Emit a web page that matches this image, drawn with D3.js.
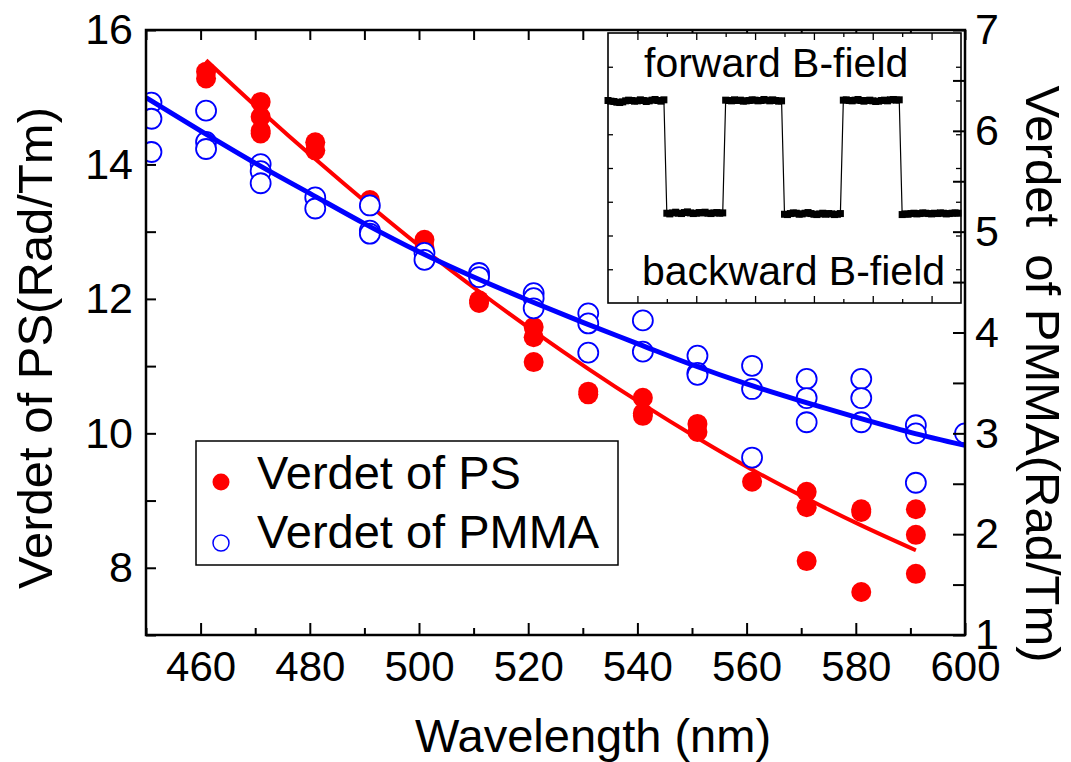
<!DOCTYPE html>
<html><head><meta charset="utf-8">
<script src="https://cdn.jsdelivr.net/npm/d3@7"></script>
<style>
body{margin:0;background:#fff}
text{font-family:"Liberation Sans", Arial, Helvetica, sans-serif;fill:#000}
</style>
</head><body>
<svg id="c" width="1071" height="762"></svg>
<script>
// ---------- data ----------
const psWavelength = [461,461, 471,471,471,471, 481,481, 491,491, 501,501, 511,511, 521,521,521, 531,531, 541,541,541, 551,551, 561,561, 571,571,571, 581,581,581, 591,591,591];
const psVerdet     = [15.38,15.28, 14.93,14.71,14.50,14.46, 14.33,14.21, 13.47,13.42, 12.88,12.76, 11.98,11.94, 11.58,11.43,11.06, 10.62,10.58, 10.53,10.30,10.26, 10.14,10.02, 9.62,9.28, 9.13,8.90,8.10, 8.87,8.83,7.64, 8.87,8.49,7.91];

const pmmaWavelength = [451,451,451, 461,461,461, 471,471,471, 481,481, 491,491,491, 501,501, 511,511, 521,521,521, 531,531,531, 541,541, 551,551,551, 561,561,561, 571,571,571, 581,581,581, 591,591,591, 600];
const pmmaVerdet     = [6.28,6.12,5.79, 6.20,5.89,5.82, 5.67,5.60,5.48, 5.34,5.23, 5.26,5.01,4.98, 4.79,4.72, 4.59,4.55, 4.39,4.34,4.24, 4.19,4.09,3.80, 4.12,3.81, 3.77,3.60,3.58, 3.67,3.44,2.76, 3.54,3.35,3.11, 3.54,3.35,3.11, 3.08,3.00,2.51, 3.00];

const psFitWavelength = [461,471,481,491,501,511,521,531,541,551,561,571,581,591];
const psFitVerdet     = [15.55,14.80,14.08,13.39,12.73,12.11,11.52,10.96,10.43,9.93,9.46,9.03,8.63,8.26];

const pmmaFitWavelength = [450,460,470,480,490,500,510,520,530,540,550,560,570,580,590,600];
const pmmaFitVerdet     = [6.33,6.00,5.68,5.38,5.08,4.80,4.55,4.32,4.10,3.89,3.68,3.49,3.32,3.16,3.01,2.88];

const xMajorTicks = [460,480,500,520,540,560,580,600];
const xMinorTicks = [450,470,490,510,530,550,570,590];
const yLeftMajorTicks = [8,10,12,14,16];
const yLeftMinorTicks = [7,9,11,13,15];
const yRightMajorTicks = [1,2,3,4,5,6,7];
const yRightMinorTicks = [1.5,2.5,3.5,4.5,5.5,6.5];

// inset: Faraday signal for forward / backward B-field (samples)
const insetSignal = [
 6.00,5.98,5.97,5.95,5.94,5.96,5.99,6.01,6.00,5.98,5.99,6.02,6.00,5.97,5.99,6.01,6.03,6.00,5.98,6.02,
 2.66,2.64,2.67,2.69,2.66,2.65,2.68,2.70,2.67,2.65,2.66,2.68,2.67,2.69,2.66,2.65,2.67,2.68,2.66,2.67,
 6.01,6.00,5.99,6.02,6.00,6.01,5.98,5.99,6.00,6.02,6.01,5.99,6.00,6.03,6.01,5.99,6.02,6.00,5.98,5.99,
 2.63,2.62,2.65,2.67,2.66,2.63,2.64,2.66,2.68,2.65,2.63,2.62,2.64,2.66,2.63,2.65,2.64,2.62,2.63,2.65,
 6.01,6.02,6.00,5.99,6.01,6.03,6.00,5.98,6.00,6.01,5.99,5.97,5.98,6.00,6.01,5.99,6.02,6.03,6.01,6.02,
 2.62,2.64,2.63,2.65,2.66,2.64,2.65,2.67,2.66,2.65,2.64,2.66,2.65,2.67,2.66,2.64,2.65,2.66,2.67,2.66
];
const insetXMajor = [0,2,4,6,8,10];
const insetXMinor = [1,3,5,7,9];
const insetYTicks = [1,2,3,4,5,6,7];

// ---------- layout ----------
const L = 146, R = 965, T = 30, B = 635;
const svg = d3.select("#c");
const x = d3.scaleLinear().domain([450,600]).range([L,R]);
const yL = d3.scaleLinear().domain([7,16]).range([B,T]);
const yR = d3.scaleLinear().domain([1,7]).range([B,T]);

svg.append("defs").append("clipPath").attr("id","plotclip")
  .append("rect").attr("x",L).attr("y",T).attr("width",R-L).attr("height",B-T);

function styleAxis(g, fs){
  g.select(".domain").remove();
  g.selectAll(".tick line").attr("stroke","#000").attr("stroke-width",2);
  g.selectAll(".tick text").attr("font-size",fs).attr("font-family",'"Liberation Sans", Arial, sans-serif').attr("fill","#000");
}

// axes (bottom, top, left)
svg.append("g").attr("transform",`translate(0,${B})`)
  .call(d3.axisBottom(x).tickValues(xMajorTicks).tickSize(-12).tickSizeOuter(0).tickPadding(16).tickFormat(d3.format("d")))
  .call(g=>styleAxis(g,42));
svg.append("g").attr("transform",`translate(0,${B})`)
  .call(d3.axisBottom(x).tickValues(xMinorTicks).tickSize(-7).tickSizeOuter(0).tickFormat(""))
  .call(g=>styleAxis(g,42));
svg.append("g").attr("transform",`translate(0,${T})`)
  .call(d3.axisTop(x).tickValues(xMajorTicks.concat(xMinorTicks)).tickSize(-10).tickSizeOuter(0).tickFormat(""))
  .call(g=>styleAxis(g,42));
svg.append("g").attr("transform",`translate(${L},0)`)
  .call(d3.axisLeft(yL).tickValues(yLeftMajorTicks).tickSize(-10).tickSizeOuter(0).tickPadding(13).tickFormat(d3.format("d")))
  .call(g=>styleAxis(g,43));
svg.append("g").attr("transform",`translate(${L},0)`)
  .call(d3.axisLeft(yL).tickValues(yLeftMinorTicks).tickSize(-10).tickSizeOuter(0).tickFormat(""))
  .call(g=>styleAxis(g,43));

// data
const plot = svg.append("g").attr("clip-path","url(#plotclip)");
const psPts = psWavelength.map((w,i)=>({w, v: psVerdet[i]}));
const pmmaPts = pmmaWavelength.map((w,i)=>({w, v: pmmaVerdet[i]}));

plot.selectAll("circle.ps").data(psPts).join("circle").attr("class","ps")
  .attr("cx",d=>x(d.w)).attr("cy",d=>yL(d.v)).attr("r",10).attr("fill","#ff0000");

const lineL = d3.line().x(d=>x(d[0])).y(d=>yL(d[1])).curve(d3.curveMonotoneX);
const lineR = d3.line().x(d=>x(d[0])).y(d=>yR(d[1])).curve(d3.curveMonotoneX);

plot.append("path").datum(psFitWavelength.map((w,i)=>[w,psFitVerdet[i]]))
  .attr("d",lineL).attr("fill","none").attr("stroke","#ff0000").attr("stroke-width",4);

plot.selectAll("circle.pm").data(pmmaPts).join("circle").attr("class","pm")
  .attr("cx",d=>x(d.w)).attr("cy",d=>yR(d.v)).attr("r",10)
  .attr("fill","#fff").attr("stroke","#0000ff").attr("stroke-width",1.8);

plot.append("path").datum(pmmaFitWavelength.map((w,i)=>[w,pmmaFitVerdet[i]]))
  .attr("d",lineR).attr("fill","none").attr("stroke","#0000ff").attr("stroke-width",5);

// ---------- inset ----------
const IL = 608, IR = 961, IT = 33, IB = 303;
const ix = d3.scaleLinear().domain([-1,11]).range([IL,IR]);
const iy = d3.scaleLinear().domain([0,8]).range([IB,IT]);
const inset = svg.append("g");
inset.append("rect").attr("x",IL).attr("y",IT).attr("width",IR-IL).attr("height",IB-IT)
  .attr("fill","#fff").attr("stroke","#000").attr("stroke-width",1.6);
const sig = insetSignal.map((v,i)=>[-1 + i*0.1, v]);
inset.append("path").datum(sig)
  .attr("d", d3.line().x(d=>ix(d[0])).y(d=>iy(d[1])))
  .attr("fill","none").attr("stroke","#000").attr("stroke-width",1.2);
inset.selectAll("rect.pt").data(sig).join("rect").attr("class","pt")
  .attr("x",d=>ix(d[0])-3.5).attr("y",d=>iy(d[1])-3.5).attr("width",7).attr("height",7).attr("fill","#000");

function insetAxis(g){ g.select(".domain").remove(); g.selectAll(".tick line").attr("stroke","#000").attr("stroke-width",1.3); }
inset.append("g").attr("transform",`translate(0,${IB})`).call(d3.axisBottom(ix).tickValues(insetXMajor).tickSize(-7).tickSizeOuter(0).tickFormat("")).call(insetAxis);
inset.append("g").attr("transform",`translate(0,${IB})`).call(d3.axisBottom(ix).tickValues(insetXMinor).tickSize(-4).tickSizeOuter(0).tickFormat("")).call(insetAxis);
inset.append("g").attr("transform",`translate(0,${IT})`).call(d3.axisTop(ix).tickValues(insetXMajor).tickSize(-7).tickSizeOuter(0).tickFormat("")).call(insetAxis);
inset.append("g").attr("transform",`translate(0,${IT})`).call(d3.axisTop(ix).tickValues(insetXMinor).tickSize(-4).tickSizeOuter(0).tickFormat("")).call(insetAxis);
inset.append("g").attr("transform",`translate(${IL},0)`).call(d3.axisLeft(iy).tickValues(insetYTicks).tickSize(-5).tickSizeOuter(0).tickFormat("")).call(insetAxis);
inset.append("g").attr("transform",`translate(${IR},0)`).call(d3.axisRight(iy).tickValues(insetYTicks).tickSize(-5).tickSizeOuter(0).tickFormat("")).call(insetAxis);
inset.append("text").attr("x",644).attr("y",77).attr("font-size",41).text("forward B-field");
inset.append("text").attr("x",642).attr("y",285).attr("font-size",41).text("backward B-field");

// right axis (drawn over inset edge)
svg.append("g").attr("transform",`translate(${R},0)`)
  .call(d3.axisRight(yR).tickValues(yRightMajorTicks).tickSize(-12).tickSizeOuter(0).tickPadding(10).tickFormat(d3.format("d")))
  .call(g=>styleAxis(g,43));
svg.append("g").attr("transform",`translate(${R},0)`)
  .call(d3.axisRight(yR).tickValues(yRightMinorTicks).tickSize(-12).tickSizeOuter(0).tickFormat(""))
  .call(g=>styleAxis(g,43));

// frame
svg.append("rect").attr("x",L).attr("y",T).attr("width",R-L).attr("height",B-T)
  .attr("fill","none").attr("stroke","#000").attr("stroke-width",2.5);

// ---------- legend ----------
const lg = svg.append("g");
lg.append("rect").attr("x",196).attr("y",441).attr("width",422).attr("height",124)
  .attr("fill","#fff").attr("stroke","#000").attr("stroke-width",1.5);
lg.append("circle").attr("cx",221).attr("cy",482).attr("r",8.5).attr("fill","#ff0000");
lg.append("circle").attr("cx",221).attr("cy",543).attr("r",8).attr("fill","#fff").attr("stroke","#0000ff").attr("stroke-width",1.5);
lg.append("text").attr("x",257).attr("y",489).attr("font-size",47).text("Verdet of PS");
lg.append("text").attr("x",257).attr("y",548).attr("font-size",47).text("Verdet of PMMA");

// ---------- axis titles ----------
svg.append("text").attr("x",593).attr("y",752).attr("text-anchor","middle").attr("font-size",47).text("Wavelength (nm)");
svg.append("text").attr("transform","translate(52,348) rotate(-90)").attr("text-anchor","middle").attr("font-size",49).text("Verdet of PS(Rad/Tm)");
svg.append("text").attr("transform","translate(1026,374) rotate(90)").attr("text-anchor","middle").attr("font-size",49)
  .attr("xml:space","preserve").style("white-space","pre").text("Verdet  of PMMA(Rad/Tm)");
</script>
</body></html>
